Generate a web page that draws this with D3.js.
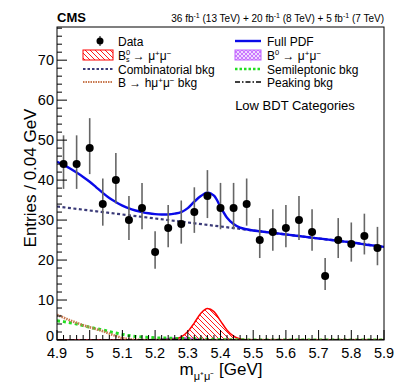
<!DOCTYPE html>
<html><head><meta charset="utf-8">
<script src="https://cdn.jsdelivr.net/npm/d3@7"></script>
<style>
html,body{margin:0;padding:0;background:#fff;}
svg{display:block;font-family:"Liberation Sans",Arial,Helvetica,sans-serif;}
</style></head>
<body>
<svg id="c" width="409" height="392"></svg>
<script>
// ---------- data ----------
const binCenters = [4.92,4.96,5.00,5.04,5.08,5.12,5.16,5.20,5.24,5.28,5.32,5.36,5.40,5.44,5.48,5.52,5.56,5.60,5.64,5.68,5.72,5.76,5.80,5.84,5.88];
const dataCounts = [44,44,48,34,40,30,33,22,28,29,32,36,33,33,34,25,27,28,30,27,16,25,24,26,23];
const errHigh = [7.2,7.2,7.5,6.4,6.8,6.0,6.3,5.2,5.8,5.9,6.2,6.5,6.3,6.3,6.4,5.5,5.7,5.8,6.0,5.7,4.5,5.5,5.4,5.6,5.3];
const errLow  = [6.2,6.2,6.5,5.4,5.8,5.0,5.3,4.2,4.8,4.9,5.2,5.5,5.3,5.3,5.4,4.5,4.7,4.8,5.0,4.7,3.5,4.5,4.4,4.6,4.3];

const massGrid = [4.90,4.92,4.94,4.96,4.98,5.00,5.02,5.04,5.06,5.08,5.10,5.12,5.14,5.16,5.18,5.20,5.22,5.24,5.26,5.28,5.30,5.32,5.34,5.36,5.38,5.40,5.42,5.44,5.46,5.48,5.50,5.52,5.54,5.56,5.58,5.60,5.62,5.64,5.66,5.68,5.70,5.72,5.74,5.76,5.78,5.80,5.82,5.84,5.86,5.88,5.90];
const fullPdf = [44.6,43.8,42.9,41.9,40.8,39.6,38.2,36.8,35.5,34.5,33.6,32.9,32.4,32.0,31.7,31.5,31.4,31.4,31.6,32.0,33.0,34.6,36.0,36.9,36.1,33.3,30.6,29.0,28.1,27.7,27.4,27.2,27.0,26.8,26.6,26.4,26.2,26.0,25.8,25.6,25.4,25.2,25.0,24.8,24.6,24.4,24.2,23.9,23.7,23.5,23.3];
const bsSignal = [0,0,0,0,0,0,0,0,0,0,0,0,0,0,0,0,0.01,0.05,0.2,0.77,2.1,4.3,6.7,7.9,7.1,4.8,2.45,0.97,0.28,0.07,0.01,0,0,0,0,0,0,0,0,0,0,0,0,0,0,0,0,0,0,0,0];
const b0Signal = [0,0,0,0,0,0,0,0,0,0,0,0,0,0,0.02,0.07,0.17,0.33,0.5,0.58,0.5,0.33,0.17,0.07,0.02,0,0,0,0,0,0,0,0,0,0,0,0,0,0,0,0,0,0,0,0,0,0,0,0,0,0];
const semiBkg = [4.8,4.6,4.3,4.0,3.6,3.2,2.85,2.5,2.1,1.75,1.4,1.1,0.9,0.75,0.65,0.55,0.5,0.45,0.4,0.38,0.35,0.3,0.25,0.2,0.15,0.1,0.07,0.05,0.04,0.03,0.02,0,0,0,0,0,0,0,0,0,0,0,0,0,0,0,0,0,0,0,0];
const hmumuBkg = [6.3,5.6,4.9,4.3,3.7,3.2,2.7,2.2,1.6,1.0,0.5,0.2,0.05,0.01,0,0,0,0,0,0,0,0,0,0,0,0,0,0,0,0,0,0,0,0,0,0,0,0,0,0,0,0,0,0,0,0,0,0,0,0,0];
const peakBkg = [0,0,0,0,0,0,0,0,0,0,0,0,0.02,0.04,0.06,0.08,0.1,0.11,0.12,0.11,0.09,0.07,0.05,0.03,0.01,0,0,0,0,0,0,0,0,0,0,0,0,0,0,0,0,0,0,0,0,0,0,0,0,0,0];
const combMass = [4.9,5.0,5.1,5.2,5.3,5.4,5.5,5.6,5.7,5.8,5.9];
const combBkg  = [33.4,32.4,31.4,30.4,29.4,28.4,27.4,26.4,25.4,24.4,23.3];

const xTicks = [4.9,5.0,5.1,5.2,5.3,5.4,5.5,5.6,5.7,5.8,5.9];
const xTickLabels = ["4.9","5","5.1","5.2","5.3","5.4","5.5","5.6","5.7","5.8","5.9"];
const yTicks = [0,10,20,30,40,50,60,70];
const yTickLabels = ["0","10","20","30","40","50","60","70"];

// ---------- layout ----------
const L=57, R=384, T=27, B=340;
const svg = d3.select("#c");
const x = d3.scaleLinear().domain([4.9,5.9]).range([L,R]);
const y = d3.scaleLinear().domain([0,78.3]).range([B,T]);

const defs = svg.append("defs");
defs.append("clipPath").attr("id","clip").append("rect").attr("x",L).attr("y",T).attr("width",R-L).attr("height",B-T);
const hp = defs.append("pattern").attr("id","hatchRed").attr("patternUnits","userSpaceOnUse").attr("width",5).attr("height",5);
hp.append("path").attr("d","M-1,-1 L6,6 M-1,4 L1,6 M4,-1 L6,1").attr("stroke","#ff0000").attr("stroke-width",0.9);
const cp = defs.append("pattern").attr("id","crossViolet").attr("patternUnits","userSpaceOnUse").attr("width",4).attr("height",4);
cp.append("rect").attr("width",4).attr("height",4).attr("fill","#f0d8ff");
cp.append("path").attr("d","M0,0 L4,4 M4,0 L0,4").attr("stroke","#c060ff").attr("stroke-width",0.8);

const font = "'Liberation Sans',Arial,Helvetica,sans-serif";
const plot = svg.append("g").attr("clip-path","url(#clip)");

const pts = arr => massGrid.map((m,i)=>[m,arr[i]]);
const line = d3.line().x(d=>x(d[0])).y(d=>y(d[1])).curve(d3.curveMonotoneX);
const area = d3.area().x(d=>x(d[0])).y0(y(0)).y1(d=>y(d[1])).curve(d3.curveMonotoneX);

// B0 fill
plot.append("path").datum(pts(b0Signal)).attr("d",area).attr("fill","url(#crossViolet)");
plot.append("path").datum(pts(b0Signal)).attr("d",line).attr("fill","none").attr("stroke","#c060ff").attr("stroke-width",1.5);
// Bs fill
plot.append("path").datum(pts(bsSignal)).attr("d",area).attr("fill","url(#hatchRed)");
plot.append("path").datum(pts(bsSignal)).attr("d",line).attr("fill","none").attr("stroke","#ff0000").attr("stroke-width",1.5);
// semileptonic
plot.append("path").datum(pts(semiBkg)).attr("d",line).attr("fill","none").attr("stroke","#22dd22").attr("stroke-width",3).attr("stroke-dasharray","3,3");
// B -> h mu mu
plot.append("path").datum(pts(hmumuBkg)).attr("d",line).attr("fill","none").attr("stroke","#c8784e").attr("stroke-width",2.6).attr("stroke-dasharray","1.5,1");
// peaking
plot.append("path").datum(pts(peakBkg)).attr("d",line).attr("fill","none").attr("stroke","#000").attr("stroke-width",1.5).attr("stroke-dasharray","6,2,1.5,2");
// combinatorial
plot.append("path").datum(combMass.map((m,i)=>[m,combBkg[i]])).attr("d",line).attr("fill","none").attr("stroke","#3a3a78").attr("stroke-width",2.2).attr("stroke-dasharray","3,2.5");
// full pdf
plot.append("path").datum(pts(fullPdf)).attr("d",d3.line().x(d=>x(d[0])).y(d=>y(d[1])).curve(d3.curveCatmullRom)).attr("fill","none").attr("stroke","#0a0ae8").attr("stroke-width",2.4);

// data
const dg = svg.append("g");
binCenters.forEach((m,i)=>{
  dg.append("line").attr("x1",x(m)).attr("x2",x(m)).attr("y1",y(dataCounts[i]+errHigh[i])).attr("y2",y(dataCounts[i]-errLow[i]))
    .attr("stroke","#666").attr("stroke-width",1.6);
});
dg.selectAll("circle").data(binCenters).join("circle").attr("cx",d=>x(d)).attr("cy",(d,i)=>y(dataCounts[i])).attr("r",4).attr("fill","#000");

// frame
svg.append("rect").attr("x",L).attr("y",T).attr("width",R-L).attr("height",B-T).attr("fill","none").attr("stroke","#000").attr("stroke-width",1);

// axes ticks
const ax = svg.append("g").attr("stroke","#000").attr("stroke-width",1);
for (let k=0;k<=50;k++){
  const v = 4.9 + k*0.02;
  const len = (k%5===0)?10:5;
  ax.append("line").attr("x1",x(v)).attr("x2",x(v)).attr("y1",B).attr("y2",B-len);
}
for (let k=0;k<=39;k++){
  const v = k*2;
  const len = (k%5===0)?10:5;
  ax.append("line").attr("x1",L).attr("x2",L+len).attr("y1",y(v)).attr("y2",y(v));
}
xTicks.forEach((v,i)=>{
  svg.append("text").attr("x",x(v)).attr("y",B+18).attr("text-anchor","middle").attr("font-size",14.5).attr("font-family",font).text(xTickLabels[i]);
});
yTicks.forEach((v,i)=>{
  svg.append("text").attr("x",L-3).attr("y",y(v)+(i===0?1:5)).attr("text-anchor","end").attr("font-size",14.5).attr("font-family",font).text(yTickLabels[i]);
});

// axis titles
const xt = svg.append("text").attr("x",221).attr("y",375).attr("text-anchor","middle").attr("font-size",17).attr("font-family",font);
xt.append("tspan").text("m");
xt.append("tspan").attr("dy",5).attr("font-size",11).text("μ⁺μ⁻");
xt.append("tspan").attr("dy",-5).text(" [GeV]");
svg.append("text").attr("transform","translate(36,178) rotate(-90)").attr("text-anchor","middle").attr("font-size",17).attr("font-family",font).text("Entries / 0.04 GeV");

// header
svg.append("text").attr("x",L).attr("y",22).attr("font-size",13).attr("font-weight","bold").attr("font-family",font).text("CMS");
const lumi = svg.append("text").attr("x",R).attr("y",22).attr("text-anchor","end").attr("font-size",10).attr("font-family",font);
const lumiParts = [["36 fb",""],["-1","sup"],[" (13 TeV) + 20 fb",""],["-1","sup"],[" (8 TeV) + 5 fb",""],["-1","sup"],[" (7 TeV)",""]];
lumiParts.forEach(p=>{
  const t = lumi.append("tspan").text(p[0]);
  if(p[1]==="sup"){ t.attr("dy",-4).attr("font-size",7); } else if (lumi.selectAll("tspan").size()>1) { t.attr("dy",4); }
});

// legend
const lg = svg.append("g").attr("font-family",font).attr("font-size",12);
const rows = [41,55,69,82];
// data marker
lg.append("line").attr("x1",100).attr("x2",100).attr("y1",rows[0]-5).attr("y2",rows[0]+5).attr("stroke","#000").attr("stroke-width",1);
lg.append("circle").attr("cx",100).attr("cy",rows[0]).attr("r",3.5).attr("fill","#000");
lg.append("text").attr("x",118).attr("y",rows[0]+4.5).text("Data");
// Full PDF
lg.append("line").attr("x1",235).attr("x2",261).attr("y1",rows[0]).attr("y2",rows[0]).attr("stroke","#0a0ae8").attr("stroke-width",2.4);
lg.append("text").attr("x",267).attr("y",rows[0]+4.5).text("Full PDF");
// Bs
lg.append("rect").attr("x",83).attr("y",rows[1]-5).attr("width",30).attr("height",10).attr("fill","url(#hatchRed)").attr("stroke","#ff0000").attr("stroke-width",1);
const tbs = lg.append("text").attr("x",118).attr("y",rows[1]+4.5);
tbs.append("tspan").text("B");
tbs.append("tspan").attr("dy",-5).attr("font-size",7.5).text("0");
tbs.append("tspan").attr("dx",-4.2).attr("dy",7.5).attr("font-size",7).text("s");
tbs.append("tspan").attr("dy",-2.5).text(" → μ");
tbs.append("tspan").attr("dy",-4).attr("font-size",8).text("+");
tbs.append("tspan").attr("dy",4).text("μ");
tbs.append("tspan").attr("dy",-4).attr("font-size",8).text("−");
// B0
lg.append("rect").attr("x",235).attr("y",rows[1]-5).attr("width",26).attr("height",10).attr("fill","url(#crossViolet)").attr("stroke","#c060ff").attr("stroke-width",1);
const tb0 = lg.append("text").attr("x",267).attr("y",rows[1]+4.5);
tb0.append("tspan").text("B");
tb0.append("tspan").attr("dy",-5).attr("font-size",7.5).text("0");
tb0.append("tspan").attr("dy",5).text(" → μ");
tb0.append("tspan").attr("dy",-4).attr("font-size",8).text("+");
tb0.append("tspan").attr("dy",4).text("μ");
tb0.append("tspan").attr("dy",-4).attr("font-size",8).text("−");
// combinatorial
lg.append("line").attr("x1",83).attr("x2",113).attr("y1",rows[2]).attr("y2",rows[2]).attr("stroke","#3a3a78").attr("stroke-width",2).attr("stroke-dasharray","2.5,2");
lg.append("text").attr("x",118).attr("y",rows[2]+4.5).text("Combinatorial bkg");
// semileptonic
lg.append("line").attr("x1",235).attr("x2",261).attr("y1",rows[2]).attr("y2",rows[2]).attr("stroke","#22dd22").attr("stroke-width",2.5).attr("stroke-dasharray","2.5,2");
lg.append("text").attr("x",267).attr("y",rows[2]+4.5).text("Semileptonic bkg");
// B->hmumu
lg.append("line").attr("x1",83).attr("x2",113).attr("y1",rows[3]).attr("y2",rows[3]).attr("stroke","#c8784e").attr("stroke-width",2).attr("stroke-dasharray","1.5,1");
const th = lg.append("text").attr("x",118).attr("y",rows[3]+4.5);
th.append("tspan").text("B → hμ");
th.append("tspan").attr("dy",-4).attr("font-size",8).text("+");
th.append("tspan").attr("dy",4).text("μ");
th.append("tspan").attr("dy",-4).attr("font-size",8).text("−");
th.append("tspan").attr("dy",4).text(" bkg");
// peaking
lg.append("line").attr("x1",235).attr("x2",261).attr("y1",rows[3]).attr("y2",rows[3]).attr("stroke","#000").attr("stroke-width",1.5).attr("stroke-dasharray","5,2,1.5,2");
lg.append("text").attr("x",267).attr("y",rows[3]+4.5).text("Peaking bkg");

svg.append("text").attr("x",295).attr("y",110).attr("text-anchor","middle").attr("font-size",13).attr("font-family",font).text("Low BDT Categories");
</script>
</body></html>
